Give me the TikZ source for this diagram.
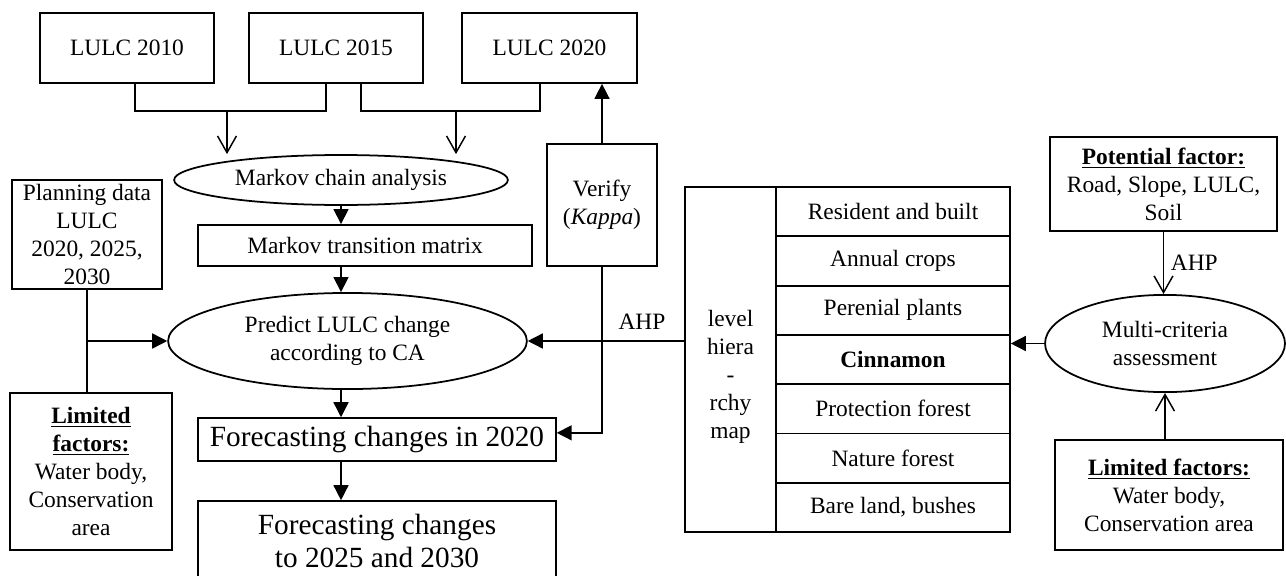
\documentclass[tikz,border=0pt]{standalone}
\usepackage{fontspec}
\setmainfont{Liberation Serif}
\usetikzlibrary{arrows.meta,positioning,shapes.geometric}

\begin{document}
\begin{tikzpicture}[
  x=0.018cm, y=-0.018cm,
  box/.style={draw, line width=0.9pt, align=center, inner sep=2pt, font=\fontsize{12}{14.3}\selectfont},
  oval/.style={draw, ellipse, line width=0.9pt, align=center, inner sep=0pt, font=\fontsize{12}{14.3}\selectfont},
  bigbox/.style={box, font=\fontsize{15}{16.9}\selectfont},
  row/.style={box, minimum width=4.21cm, minimum height=0.887cm},
  arrow/.style={-{Triangle[length=0.27cm, width=0.27cm]}, line width=0.75pt},
  openarrow/.style={-{Straight Barb[length=0.3cm, width=0.34cm]}, line width=0.75pt},
  link/.style={line width=0.75pt},
  label/.style={font=\fontsize{12}{14.3}\selectfont, inner sep=0pt}
]
\useasboundingbox (0,0) rectangle (1286,575);

% input maps
\node[box, minimum width=3.13cm, minimum height=1.26cm] (lulcA) at (127,48) {LULC 2010};
\node[box, minimum width=3.13cm, minimum height=1.26cm] (lulcB) at (336,48) {LULC 2015};
\node[box, minimum width=3.15cm, minimum height=1.26cm] (lulcC) at (549.5,48) {LULC 2020};

% CA-Markov chain
\node[oval, minimum width=6.01cm, minimum height=0.9cm] (markov) at (341,180) {Markov chain analysis};
\node[box, minimum width=6.01cm, minimum height=0.74cm] (matrix) at (365,245.5) {Markov transition matrix};
\node[oval, minimum width=6.46cm, minimum height=1.73cm] (predict) at (347.5,341) {Predict LULC change\\according to CA};
\node[bigbox, minimum width=6.44cm, minimum height=0.77cm] (fcA) at (377,439.5) {Forecasting changes in 2020};
\node[bigbox, minimum width=6.44cm, minimum height=1.42cm] (fcB) at (377,540.5) {Forecasting changes\\to 2025 and 2030};

\node[box, minimum width=2.7cm, minimum height=1.96cm] (planning) at (87,234.5) {Planning data\\LULC\\2020, 2025,\\2030};
\node[box, minimum width=2.92cm, minimum height=2.83cm] (limL) at (91,471.5) {\underline{\textbf{Limited}}\\\underline{\textbf{factors:}}\\Water body,\\Conservation\\area};
\node[box, minimum width=1.98cm, minimum height=2.2cm] (verify) at (602,205) {Verify\\(\textit{Kappa})};

% suitability map
\node[box, minimum width=1.64cm, minimum height=6.21cm] (hier) at (730.5,359.5) {};
\node[label, align=center] (hiertxt) at (730.5,377) {level\\hiera\\-\\rchy\\map};
\foreach \t [count=\i] in {Resident and built, Annual crops, Perenial plants, \textbf{Cinnamon}, Protection forest, Nature forest, {Bare land, bushes}}
  \node[row] (row\i) at (893,187+49.3*\i-24.65) {\t};

% multi-criteria
\node[box, minimum width=4.09cm, minimum height=1.69cm] (potential) at (1163.5,184) {\underline{\textbf{Potential factor:}}\\Road, Slope, LULC,\\Soil};
\node[oval, minimum width=4.32cm, minimum height=1.75cm] (mca) at (1165,343.5) {Multi-criteria\\assessment};
\node[box, minimum width=4.1cm, minimum height=1.98cm] (limR) at (1169,495) {\underline{\textbf{Limited factors:}}\\Water body,\\Conservation area};
\node[label] (ahpA) at (642,322) {AHP};

\coordinate (jA) at (227,111);
\coordinate (jB) at (456,111);
\draw[link] ([xshift=0.144cm]lulcA.south) |- (jA) -| ([xshift=-0.18cm]lulcB.south);
\draw[link] ([xshift=0.45cm]lulcB.south) |- (jB) -| ([xshift=-0.17cm]lulcC.south);
\draw[openarrow] (jA) -- (jA |- markov.north);
\draw[openarrow] (jB) -- (jB |- markov.north);

\draw[arrow] (markov.south) -- (markov.south |- matrix.north);
\draw[arrow] (matrix.south -| markov.south) -- (markov.south |- predict.north);
\draw[arrow] (predict.south -| markov.south) -- (markov.south |- fcA.north);
\draw[arrow] (fcA.south -| markov.south) -- (markov.south |- fcB.north);

\draw[link] (planning.south) -- (planning.south |- limL.north);
\draw[arrow] (planning.south |- predict.west) -- (predict.west);
\draw[arrow] (verify.north) -- (verify.north |- lulcC.south);
\draw[arrow] (verify.south) |- ([yshift=0.12cm]fcA.east);
\draw[arrow] (hier.west |- predict.east) -- (predict.east);

\draw[arrow] (mca.west) -- (mca.west -| row4.east);
\draw[openarrow] (potential.south) -- (potential.south |- mca.north) node[midway, right=0.12cm, label] {AHP};
\draw[openarrow] (mca.south |- limR.north) -- (mca.south);

\end{tikzpicture}
\end{document}
